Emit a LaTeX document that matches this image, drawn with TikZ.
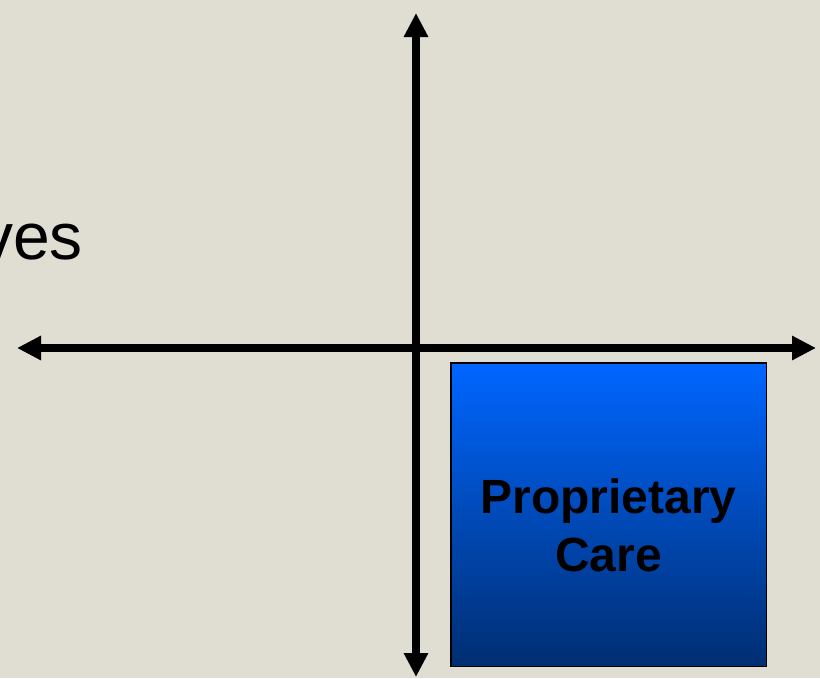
\documentclass[tikz,border=0pt]{standalone}
\usepackage{fontspec}
\setmainfont{Liberation Sans}
\usetikzlibrary{arrows.meta, positioning}
\definecolor{bgbeige}{HTML}{E0DDD2}
\definecolor{boxtop}{HTML}{0066FF}
\definecolor{boxbottom}{HTML}{002E72}

\begin{document}
\begin{tikzpicture}[x=1pt, y=-1pt,
    axis/.style={line width=7.5pt, {Triangle[length=24pt,width=23pt]}-{Triangle[length=24pt,width=23pt]}}]
    % Background
    \fill[bgbeige] (0,0) rectangle (820,678);
    \useasboundingbox (0,0) rectangle (820,678);
    \clip (0,0) rectangle (820,678);

    % Axis ends
    \coordinate (top) at (416,13);
    \coordinate (bottom) at (416,677);
    \coordinate (left) at (17,348);
    \coordinate (right) at (816,348);

    % Axes
    \draw[axis] (bottom) -- (top);
    \draw[axis] (left) -- (right);

    % Cut-off label
    \node[anchor=base east, inner sep=0pt, font=\fontsize{66}{79}\selectfont] (ves) at (83,259) {ves};

    % Quadrant box
    \node[draw, line width=1.5pt, rectangle, minimum width=315.5pt, minimum height=303.5pt, inner sep=0pt,
          top color=boxtop, bottom color=boxbottom] (propcare) at (608.5,514.5) {};
    \node[anchor=base, inner sep=0pt, font=\fontsize{48}{58}\bfseries] (propline) at (608.5,513) {Proprietary};
    \node[anchor=base, inner sep=0pt, font=\fontsize{48}{58}\bfseries] (careline) at (608.5,571) {Care};
\end{tikzpicture}
\end{document}
